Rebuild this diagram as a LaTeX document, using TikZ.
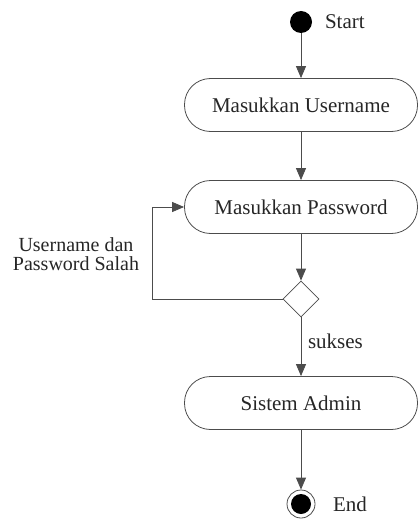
\documentclass[tikz,border=0pt]{standalone}
\usepackage{fontspec}
\setmainfont{Liberation Serif}
\usetikzlibrary{shapes.geometric,arrows.meta}
\begin{document}
\begin{tikzpicture}[x=0.5pt,y=-0.5pt,
        aksi/.style={rectangle,rounded corners=13pt,draw=black!70,
            minimum width=116.5pt,minimum height=26.5pt,
            font=\fontsize{10.5}{12}\selectfont,text=black!85},
        awal/.style={circle,fill=black,minimum size=11pt,inner sep=0pt},
        akhir/.style={circle,draw=black!70,minimum size=14pt,inner sep=0pt,
            path picture={\fill[black] (path picture bounding box.center) circle (5pt);}},
        pilih/.style={diamond,draw=black!70,minimum width=18pt,
            minimum height=18pt,inner sep=0pt},
        panah/.style={-{Triangle[length=6pt,width=5pt]},draw=black!70},
        ket/.style={font=\fontsize{10.5}{9}\selectfont,text=black!85}]
\useasboundingbox (0,0) rectangle (418,519);

\node[awal] (start) at (301,22) {};
\node[ket,anchor=west] (lblstart) at (318,22) {Start};
\node[aksi] (user) at (301,105) {Masukkan Username};
\node[aksi] (pass) at (301,207) {Masukkan Password};
\node[pilih] (cek) at (301,299) {};
\node[aksi] (admin) at (301,403) {Sistem Admin};
\node[akhir] (end) at (301,504) {};
\node[ket,anchor=west] (lblend) at (326,504) {End};
\node[ket,align=center,font=\fontsize{10}{9.6}\selectfont] (lblsalah) at (76,254) {Username dan\\Password Salah};
\coordinate (balik) at (152,299);

\draw[panah] (start) -- (user);
\draw[panah] (user) -- (pass);
\draw[panah] (pass) -- (cek);
\draw[panah] (cek.west) -- (balik) |- (pass.west);
\draw[panah] (cek) -- node[ket,right,pos=0.4] (lblsukses) {sukses} (admin);
\draw[panah] (admin) -- (end);
\end{tikzpicture}
\end{document}
